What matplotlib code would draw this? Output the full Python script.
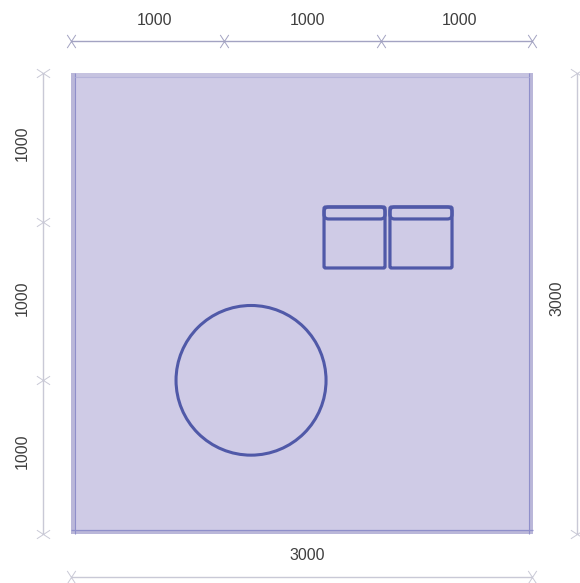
import matplotlib
matplotlib.use("Agg")
import matplotlib.pyplot as plt
from matplotlib.patches import Rectangle, Circle, FancyBboxPatch
from matplotlib.path import Path

# everything in mm, plan is 3000 x 3000
room_w = 3000
room_h = 3000
wall = 27
x_labels = ["1000", "1000", "1000"]
y_labels = ["1000", "1000", "1000"]
total_label = "3000"

# where the marks and labels sit in the drawing
x_marks = [0, 994, 2013, 2994]
y_marks = [0, 1002, 2030, 3000]
x_label_pos = [539, 1533, 2520]
y_label_pos = [540, 1535, 2544]

round_table = (1169, 1000, 487)
seat_x = [1643, 2071]
seat_w = [396, 403]
seat_y = 1731
seat_h = 397
back_h = 78

FILL = "#cfcbe6"
BAND_TOP = "#c6c3e0"
BAND_SIDE = "#bab7d9"
INNER = "#8f8fca"
INNER_TOP = "#b6b4da"
INK = "#5059a8"
DIM = "#a3a3c2"
DIM_PALE = "#c9c9d6"
TEXT = "#3f3f3f"

# long thin crosses, the dimension ticks are not square
TALL_X = Path([(-0.65, -1), (0.65, 1), (-0.65, 1), (0.65, -1)],
              [Path.MOVETO, Path.LINETO, Path.MOVETO, Path.LINETO])
WIDE_X = Path([(-1, -0.65), (1, 0.65), (-1, 0.65), (1, -0.65)],
              [Path.MOVETO, Path.LINETO, Path.MOVETO, Path.LINETO])

plt.rcParams["font.family"] = ["Liberation Sans", "DejaVu Sans"]

fig = plt.figure(figsize=(5.8, 5.83), dpi=100, facecolor="white")
ax = fig.add_axes([0, 0, 1, 1])
ax.set_xlim(-461, 3305)
ax.set_ylim(-319, 3475)
ax.axis("off")

# wall and floor
ax.add_patch(Rectangle((0, 0), room_w, room_h, fc=BAND_SIDE, ec="none"))
ax.add_patch(Rectangle((wall, room_h - wall), room_w - 2 * wall, wall,
                       fc=BAND_TOP, ec="none"))
ax.add_patch(Rectangle((wall, wall), room_w - 2 * wall, room_h - 2 * wall,
                       fc=FILL, ec="none"))
ax.plot([wall, wall], [0, room_h], color=INNER, lw=0.8, solid_capstyle="butt")
ax.plot([room_w - wall, room_w - wall], [0, room_h], color=INNER, lw=0.8,
        solid_capstyle="butt")
ax.plot([0, room_w], [wall, wall], color=INNER, lw=0.9, solid_capstyle="butt")
ax.plot([wall, room_w - wall], [room_h - wall, room_h - wall], color=INNER_TOP,
        lw=0.8, solid_capstyle="butt")

# furniture
ax.add_patch(Circle(round_table[:2], round_table[2], fc="none", ec=INK, lw=2.2))
for sx, sw in zip(seat_x, seat_w):
    ax.add_patch(FancyBboxPatch((sx, seat_y), sw, seat_h,
                                boxstyle="round,pad=0,rounding_size=10",
                                fc="none", ec=INK, lw=2.3))
    ax.add_patch(FancyBboxPatch((sx, seat_y + seat_h - back_h), sw, back_h,
                                boxstyle="round,pad=0,rounding_size=30",
                                fc="none", ec=INK, lw=2.3))


def dim_line(xs, ys, color, marker):
    ax.plot(xs, ys, color=color, lw=1.0, marker=marker, ms=9.5, mew=0.7,
            mec=color, mfc="none", solid_capstyle="butt", clip_on=False)


# top dimensions
dim_line(x_marks, [3208] * len(x_marks), DIM, TALL_X)
for pos, label in zip(x_label_pos, x_labels):
    ax.text(pos, 3340, label, ha="center", va="center", fontsize=11.5, color=TEXT)

# left dimensions
dim_line([-181] * len(y_marks), y_marks, DIM_PALE, WIDE_X)
for pos, label in zip(y_label_pos, y_labels):
    ax.text(-318, pos, label, ha="center", va="center", rotation=90,
            fontsize=11.5, color=TEXT)

# totals, bottom and right
dim_line([0, room_w - 6], [-280, -280], DIM_PALE, TALL_X)
ax.text(1532, -143, total_label, ha="center", va="center", fontsize=11.5, color=TEXT)

dim_line([3286, 3286], [0, room_h], DIM_PALE, WIDE_X)
ax.text(3156, 1535, total_label, ha="center", va="center", rotation=90,
        fontsize=11.5, color=TEXT)

fig.savefig("out.png", dpi=100, facecolor="white")
